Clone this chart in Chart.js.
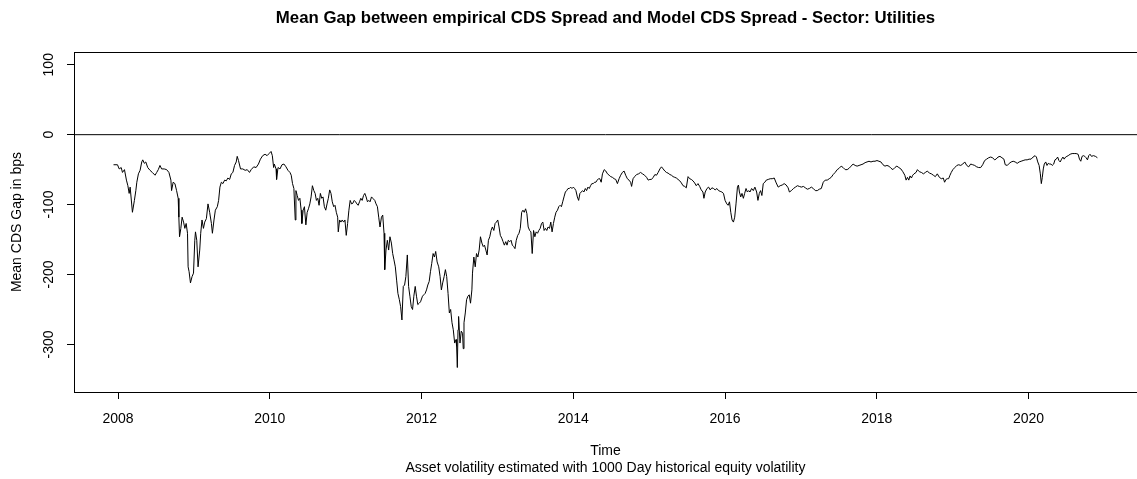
<!DOCTYPE html>
<html>
<head>
<meta charset="utf-8">
<script src="https://cdn.jsdelivr.net/npm/chart.js@4"></script>
<style>
  html, body { margin: 0; padding: 0; background: #fff; }
  #wrap { width: 1137px; height: 479px; }
</style>
</head>
<body>
<div id="wrap"><canvas id="chart"></canvas></div>
<script>
// decimal year of each observation
const years = [
  2007.941, 2007.993, 2008.016, 2008.042, 2008.059, 2008.085, 2008.111, 2008.130, 2008.147, 2008.160,
  2008.190, 2008.216, 2008.235, 2008.248, 2008.269, 2008.291, 2008.313, 2008.326, 2008.347, 2008.366,
  2008.392, 2008.422, 2008.452, 2008.488, 2008.510, 2008.531, 2008.553, 2008.575, 2008.609, 2008.641,
  2008.671, 2008.697, 2008.706, 2008.727, 2008.750, 2008.772, 2008.793, 2008.802, 2008.811, 2008.828,
  2008.845, 2008.864, 2008.881, 2008.898, 2008.916, 2008.924, 2008.937, 2008.955, 2008.976, 2008.995,
  2009.012, 2009.021, 2009.038, 2009.055, 2009.077, 2009.090, 2009.107, 2009.126, 2009.143, 2009.165,
  2009.186, 2009.208, 2009.231, 2009.244, 2009.265, 2009.283, 2009.309, 2009.326, 2009.343, 2009.362,
  2009.383, 2009.405, 2009.427, 2009.448, 2009.471, 2009.493, 2009.514, 2009.536, 2009.558, 2009.571,
  2009.588, 2009.615, 2009.645, 2009.676, 2009.703, 2009.733, 2009.755, 2009.789, 2009.820, 2009.851,
  2009.877, 2009.907, 2009.938, 2009.965, 2009.991, 2010.017, 2010.034, 2010.051,
  2010.060, 2010.083, 2010.090, 2010.109, 2010.135, 2010.161, 2010.187, 2010.214, 2010.240, 2010.266,
  2010.283, 2010.300, 2010.318, 2010.336, 2010.345, 2010.362, 2010.379, 2010.397, 2010.414, 2010.423,
  2010.440, 2010.457, 2010.476, 2010.493, 2010.510, 2010.528, 2010.545, 2010.562, 2010.581, 2010.598,
  2010.615, 2010.633, 2010.650, 2010.667, 2010.685, 2010.702, 2010.720, 2010.738, 2010.755, 2010.772,
  2010.790, 2010.807, 2010.824, 2010.843, 2010.860, 2010.877, 2010.895, 2010.903, 2010.921, 2010.938,
  2010.955, 2010.974, 2010.991, 2011.008, 2011.026, 2011.043, 2011.060, 2011.079, 2011.096, 2011.113,
  2011.131, 2011.148, 2011.165, 2011.183, 2011.200, 2011.218, 2011.236, 2011.253, 2011.270, 2011.288,
  2011.305, 2011.322, 2011.341, 2011.358, 2011.384, 2011.401, 2011.419, 2011.436, 2011.453, 2011.472,
  2011.489, 2011.506, 2011.515, 2011.532, 2011.550, 2011.567, 2011.584, 2011.603, 2011.620, 2011.637,
  2011.655, 2011.672, 2011.689, 2011.708, 2011.725, 2011.742, 2011.760, 2011.777, 2011.794, 2011.813,
  2011.830, 2011.847, 2011.865, 2011.882, 2011.899, 2011.917, 2011.934, 2011.951, 2011.970, 2011.987,
  2012.013, 2012.030, 2012.048, 2012.066, 2012.083, 2012.101, 2012.118, 2012.135, 2012.153, 2012.170,
  2012.187, 2012.206,
  2012.227, 2012.245, 2012.262, 2012.279, 2012.298, 2012.315, 2012.332, 2012.350, 2012.367, 2012.384,
  2012.402, 2012.419, 2012.437, 2012.455, 2012.463, 2012.472, 2012.481, 2012.489, 2012.507, 2012.524,
  2012.541, 2012.550, 2012.560, 2012.577, 2012.594, 2012.612, 2012.629, 2012.646, 2012.664, 2012.672,
  2012.690, 2012.708, 2012.725, 2012.743, 2012.760, 2012.777, 2012.796, 2012.813, 2012.830, 2012.848,
  2012.865, 2012.882, 2012.900, 2012.917, 2012.934, 2012.953, 2012.970, 2012.987, 2013.005, 2013.022,
  2013.039, 2013.058, 2013.075, 2013.092, 2013.110, 2013.127, 2013.144, 2013.163, 2013.180, 2013.197,
  2013.215, 2013.232, 2013.249, 2013.268, 2013.285, 2013.302, 2013.320, 2013.337, 2013.354, 2013.372,
  2013.389, 2013.406, 2013.425, 2013.442, 2013.459, 2013.477, 2013.494, 2013.511, 2013.529, 2013.546,
  2013.564, 2013.582, 2013.599, 2013.616, 2013.634, 2013.651, 2013.668, 2013.687, 2013.704, 2013.721,
  2013.739, 2013.756, 2013.773, 2013.792, 2013.809, 2013.826, 2013.844, 2013.861, 2013.878, 2013.896,
  2013.913, 2013.931, 2013.949, 2013.966, 2013.983, 2014.001, 2014.018, 2014.035, 2014.054, 2014.071,
  2014.088, 2014.106, 2014.123, 2014.140, 2014.159, 2014.176, 2014.193, 2014.211, 2014.228, 2014.245,
  2014.264, 2014.281, 2014.298, 2014.316, 2014.333, 2014.350, 2014.368,
  2014.385, 2014.408, 2014.429, 2014.451, 2014.473, 2014.494, 2014.516, 2014.539, 2014.560, 2014.582,
  2014.604, 2014.625, 2014.647, 2014.670, 2014.691, 2014.713, 2014.735, 2014.756, 2014.769, 2014.788,
  2014.809, 2014.835, 2014.861, 2014.887, 2014.913, 2014.940, 2014.966, 2014.988, 2015.010, 2015.031,
  2015.054, 2015.076, 2015.097, 2015.119, 2015.142, 2015.163, 2015.185, 2015.207, 2015.228, 2015.250,
  2015.273, 2015.294, 2015.316, 2015.338, 2015.359, 2015.381, 2015.404, 2015.425, 2015.447, 2015.469,
  2015.490, 2015.513, 2015.535, 2015.556, 2015.578, 2015.600, 2015.621, 2015.644, 2015.666, 2015.687,
  2015.709, 2015.722, 2015.739, 2015.762, 2015.784, 2015.805, 2015.827, 2015.849, 2015.870, 2015.893,
  2015.915, 2015.936, 2015.958, 2015.980, 2016.001, 2016.024, 2016.041, 2016.059, 2016.076, 2016.093,
  2016.111, 2016.128, 2016.145, 2016.164, 2016.177, 2016.190, 2016.207, 2016.224, 2016.242, 2016.259,
  2016.277, 2016.295, 2016.312, 2016.329, 2016.351, 2016.373, 2016.394, 2016.417, 2016.434, 2016.452,
  2016.469, 2016.486, 2016.504, 2016.525,
  2016.544, 2016.570, 2016.596, 2016.622, 2016.649, 2016.675, 2016.701, 2016.727, 2016.754, 2016.780,
  2016.806, 2016.832, 2016.849, 2016.875, 2016.902, 2016.928, 2016.954, 2016.980, 2017.006, 2017.033,
  2017.059, 2017.085, 2017.111, 2017.138, 2017.164, 2017.190, 2017.216, 2017.243, 2017.269, 2017.295,
  2017.321, 2017.347, 2017.374, 2017.400, 2017.426, 2017.452, 2017.479, 2017.505, 2017.531, 2017.557,
  2017.584, 2017.610, 2017.636, 2017.662, 2017.688, 2017.715, 2017.741, 2017.767, 2017.793, 2017.819,
  2017.846, 2017.872, 2017.898, 2017.924, 2017.951, 2017.977, 2018.003, 2018.029, 2018.055, 2018.082,
  2018.108, 2018.134, 2018.160, 2018.187, 2018.213, 2018.239, 2018.265, 2018.291, 2018.318, 2018.344,
  2018.370, 2018.387, 2018.405, 2018.422, 2018.439, 2018.457, 2018.474, 2018.491, 2018.518, 2018.536,
  2018.562, 2018.588, 2018.615, 2018.641,
  2018.667, 2018.694, 2018.720, 2018.746, 2018.772, 2018.798, 2018.825, 2018.851, 2018.877, 2018.894,
  2018.912, 2018.929, 2018.947, 2018.965, 2018.982, 2019.003, 2019.029, 2019.055, 2019.081, 2019.107,
  2019.134, 2019.160, 2019.186, 2019.212, 2019.238, 2019.265, 2019.291, 2019.317, 2019.343, 2019.370,
  2019.396, 2019.422, 2019.448, 2019.475, 2019.501, 2019.527, 2019.553, 2019.572, 2019.598, 2019.624,
  2019.650, 2019.676, 2019.693, 2019.720, 2019.746, 2019.772, 2019.798, 2019.824, 2019.851, 2019.877,
  2019.903, 2019.929, 2019.956, 2019.982, 2020.008, 2020.034, 2020.060, 2020.087, 2020.104, 2020.122,
  2020.140, 2020.156, 2020.169, 2020.182, 2020.195, 2020.208, 2020.227, 2020.244, 2020.261, 2020.279,
  2020.296, 2020.313, 2020.332, 2020.349, 2020.366, 2020.384, 2020.401, 2020.418, 2020.436, 2020.454,
  2020.470, 2020.489, 2020.506, 2020.523, 2020.549, 2020.575, 2020.602, 2020.628, 2020.654, 2020.672,
  2020.689, 2020.706, 2020.725, 2020.742, 2020.759, 2020.777, 2020.794, 2020.811, 2020.830, 2020.856,
  2020.882, 2020.908
];

// mean CDS gap in bps, same order as years
const gapBps = [
  -43, -43, -49, -47, -54, -50, -65, -73, -84, -75,
  -111, -94, -80, -68, -56, -51, -39, -36, -41, -39,
  -47, -51, -54, -58, -54, -50, -44, -49, -49, -50,
  -54, -65, -80, -68, -70, -80, -91, -118, -146, -134,
  -118, -125, -134, -127, -141, -189, -196, -212, -203, -198,
  -151, -139, -151, -189, -165, -141, -122, -134, -125, -120,
  -99, -111, -127, -141, -122, -108, -103, -94, -75, -68,
  -70, -65, -66, -62, -64, -56, -54, -44, -39, -31,
  -37, -49, -49, -51, -50, -54, -50, -46, -47, -42,
  -35, -30, -28, -30, -27, -24, -30, -47,
  -42, -49, -64, -47, -49, -43, -42, -46, -51, -54,
  -58, -70, -77, -122, -80, -87, -94, -91, -108, -127,
  -108, -103, -129, -111, -106, -99, -89, -73, -80, -84,
  -94, -91, -101, -84, -91, -89, -103, -108, -99, -91,
  -79, -84, -96, -103, -101, -111, -118, -139, -122, -125,
  -122, -125, -122, -144, -127, -108, -94, -99, -98, -94,
  -96, -99, -101, -96, -91, -94, -87, -84, -89, -96,
  -94, -96, -89, -91, -94, -99, -103, -118, -132, -118,
  -115, -141, -193, -165, -151, -165, -146, -155, -170, -179,
  -189, -208, -227, -236, -246, -265, -217, -215, -203, -172,
  -217, -231, -246, -250, -231, -217, -231, -243, -241, -239,
  -231, -229, -227, -222, -215, -210, -196, -184, -170, -175,
  -167, -182,
  -189, -203, -222, -212, -203, -193, -203, -227, -255, -250,
  -269, -279, -298, -293, -303, -333, -279, -260, -298, -281,
  -284, -306, -269, -255, -236, -231, -229, -241, -222, -198,
  -175, -189, -170, -175, -165, -146, -155, -160, -158, -165,
  -172, -151, -146, -137, -132, -137, -127, -125, -122, -132,
  -144, -148, -153, -158, -153, -158, -151, -153, -151, -158,
  -160, -163, -151, -144, -141, -134, -111, -108, -111, -106,
  -113, -132, -137, -139, -170, -137, -146, -139, -141, -137,
  -134, -127, -125, -137, -134, -137, -132, -134, -125, -139,
  -127, -118, -111, -108, -103, -101, -103, -96, -89, -82,
  -80, -77, -77, -75, -77, -75, -77, -80, -89, -94,
  -84, -82, -80, -82, -77, -80, -75, -77, -73, -70,
  -70, -68, -68, -65, -63, -63, -68,
  -56, -50, -52, -56, -58, -60, -61, -63, -64, -70,
  -63, -58, -54, -52, -58, -63, -65, -68, -74, -63,
  -60, -57, -56, -54, -56, -58, -61, -65, -64, -64,
  -61, -57, -58, -54, -49, -46, -49, -52, -54, -55,
  -57, -58, -60, -61, -62, -64, -66, -69, -73, -74,
  -76, -60, -63, -64, -66, -69, -73, -70, -74, -79,
  -82, -91, -82, -77, -75, -79, -76, -77, -79, -77,
  -80, -81, -82, -84, -94, -99, -101, -96, -111, -122,
  -125, -118, -99, -75, -72, -82, -89, -84, -91, -84,
  -77, -82, -80, -82, -77, -80, -75, -82, -94, -84,
  -80, -87, -70, -68,
  -65, -64, -63, -63, -62, -69, -75, -73, -72, -70,
  -72, -76, -82, -80, -77, -75, -73, -74, -75, -74,
  -76, -78, -77, -75, -77, -80, -80, -78, -77, -68,
  -65, -65, -63, -61, -57, -54, -50, -48, -45, -47,
  -50, -50, -48, -45, -42, -44, -45, -44, -43, -42,
  -40, -39, -38, -39, -38, -38, -37, -38, -39, -43,
  -45, -44, -45, -48, -50, -47, -45, -47, -49, -53,
  -58, -65, -61, -65, -59, -62, -58, -56, -54, -50,
  -53, -54, -56, -54,
  -52, -55, -56, -58, -60, -56, -61, -63, -62, -68,
  -64, -63, -63, -58, -54, -50, -47, -44, -43, -44,
  -42, -39, -44, -46, -42, -43, -44, -46, -47, -47,
  -43, -37, -35, -33, -32, -33, -36, -35, -32, -31,
  -33, -35, -43, -44, -41, -39, -38, -39, -41, -39,
  -38, -37, -36, -36, -35, -35, -32, -30, -32, -39,
  -44, -56, -70, -61, -49, -42, -39, -44, -41, -42,
  -42, -44, -42, -36, -35, -32, -37, -39, -35, -32,
  -35, -32, -31, -30, -28, -27, -27, -27, -28, -35,
  -38, -31, -30, -31, -33, -36, -30, -28, -31, -30,
  -31, -33
];

const xTicks = [2008, 2010, 2012, 2014, 2016, 2018, 2020];
const yTicks = [100, 0, -100, -200, -300];
const xMin = 2007.42, xMax = 2021.43;
const yMin = -368, yMax = 118;

const chartTitle = 'Mean Gap between empirical CDS Spread and Model CDS Spread - Sector: Utilities';
const xTitle = ['Time', 'Asset volatility estimated with 1000 Day historical equity volatility'];
const yTitle = 'Mean CDS Gap in bps';

const FONT = '"Liberation Sans", Arial, Helvetica, sans-serif';

const series = years.map((yr, i) => ({ x: yr, y: gapBps[i] }));

// R style box around the plot region
const boxPlugin = {
  id: 'plotBox',
  afterDraw(chart) {
    const { ctx, chartArea: a } = chart;
    ctx.save();
    ctx.strokeStyle = '#000';
    ctx.lineWidth = 1;
    ctx.strokeRect(Math.round(a.left) + 0.5, Math.round(a.top) + 0.5,
      Math.round(a.right - a.left), Math.round(a.bottom - a.top));
    ctx.restore();
  }
};

new Chart(document.getElementById('chart'), {
  type: 'line',
  data: {
    datasets: [
      {
        data: series,
        borderColor: '#000',
        borderWidth: 1,
        pointRadius: 0,
        tension: 0,
        fill: false
      },
      {
        // abline(h = 0)
        data: [{ x: xMin, y: 0 }, { x: xMax, y: 0 }],
        borderColor: '#000',
        borderWidth: 1,
        pointRadius: 0,
        fill: false
      }
    ]
  },
  options: {
    responsive: true,
    maintainAspectRatio: false,
    animation: false,
    layout: { padding: { left: 0, right: -6, top: 0, bottom: 0 } },
    plugins: {
      legend: { display: false },
      tooltip: { enabled: false },
      title: {
        display: true,
        text: chartTitle,
        fullSize: false,
        color: '#000',
        font: { family: FONT, size: 16.8, weight: 'bold', lineHeight: 1.2 },
        padding: { top: 8, bottom: 24 }
      }
    },
    scales: {
      x: {
        type: 'linear',
        min: xMin,
        max: xMax,
        afterBuildTicks: (s) => { s.ticks = xTicks.map(v => ({ value: v })); },
        afterFit: (s) => { s.height = 87; },
        border: { display: false },
        grid: { drawOnChartArea: false, drawTicks: true, tickLength: 7, color: '#000' },
        ticks: {
          color: '#000',
          padding: 11.5,
          maxRotation: 0,
          autoSkip: false,
          font: { family: FONT, size: 14, lineHeight: 1.2 },
          callback: (v) => String(v)
        },
        title: {
          display: true,
          text: xTitle,
          color: '#000',
          font: { family: FONT, size: 14, lineHeight: 1.2 },
          padding: { top: 0, bottom: 2.3 }
        }
      },
      y: {
        type: 'linear',
        min: yMin,
        max: yMax,
        afterBuildTicks: (s) => { s.ticks = yTicks.map(v => ({ value: v })); },
        afterFit: (s) => { s.width = 74; },
        border: { display: false },
        grid: { drawOnChartArea: false, drawTicks: true, tickLength: 7, color: '#000' },
        ticks: {
          color: '#000',
          padding: 3.5,
          minRotation: 90,
          maxRotation: 90,
          crossAlign: 'center',
          autoSkip: false,
          font: { family: FONT, size: 14, lineHeight: 1.2 },
          callback: (v) => String(v)
        },
        title: {
          display: true,
          text: yTitle,
          color: '#000',
          font: { family: FONT, size: 14, lineHeight: 1.2 },
          padding: { top: 8.6, bottom: 0 }
        }
      }
    }
  },
  plugins: [boxPlugin]
});
</script>
</body>
</html>
